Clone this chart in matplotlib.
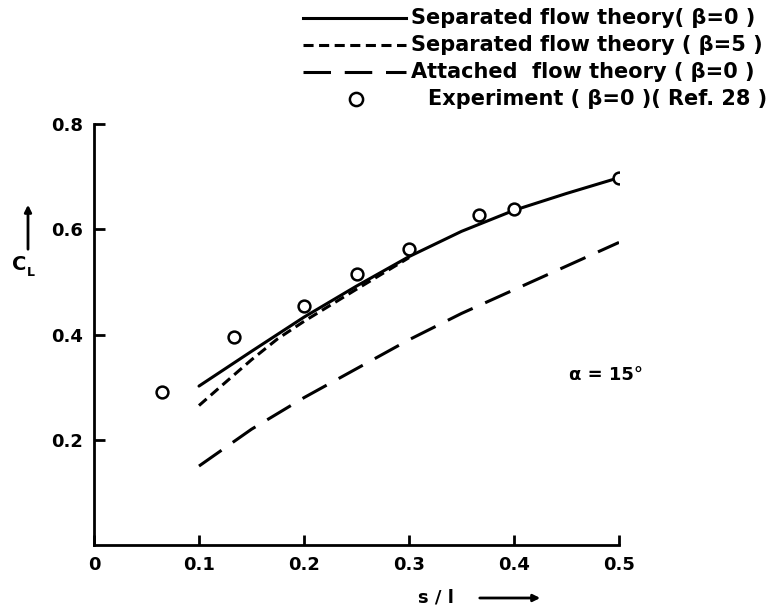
import matplotlib
matplotlib.use("Agg")
import matplotlib.pyplot as plt
from matplotlib.lines import Line2D

# Data (CL vs s/l, alpha = 15 deg)
sep_b0_x = [0.1, 0.15, 0.2, 0.25, 0.3, 0.35, 0.4, 0.45, 0.5]
sep_b0_y = [0.302, 0.368, 0.433, 0.492, 0.548, 0.596, 0.636, 0.668, 0.698]

sep_b5_x = [0.1, 0.12, 0.15, 0.175, 0.2, 0.25, 0.3]
sep_b5_y = [0.265, 0.30, 0.352, 0.392, 0.425, 0.486, 0.546]

att_b0_x = [0.1, 0.15, 0.2, 0.25, 0.3, 0.35, 0.4, 0.45, 0.5]
att_b0_y = [0.15, 0.22, 0.28, 0.335, 0.39, 0.44, 0.485, 0.53, 0.575]

exp_x = [0.065, 0.133, 0.2, 0.25, 0.3, 0.367, 0.4, 0.5]
exp_y = [0.29, 0.395, 0.455, 0.515, 0.562, 0.627, 0.638, 0.698]

x_ticks = [0, 0.1, 0.2, 0.3, 0.4, 0.5]
x_ticklabels = ["0", "0.1", "0.2", "0.3", "0.4", "0.5"]
y_ticks = [0.2, 0.4, 0.6, 0.8]
y_ticklabels = ["0.2", "0.4", "0.6", "0.8"]

legend_texts = [
    "Separated flow theory( β=0 )",
    "Separated flow theory ( β=5 )",
    "Attached  flow theory ( β=0 )",
    "Experiment ( β=0 )( Ref. 28 )",
]

W, H = 782, 607
FS = 13
LEG_FS = 15

def fx(px):
    return px / W

def fy(py):
    return 1 - py / H

fig = plt.figure(figsize=(W / 100, H / 100), dpi=100)
ax = fig.add_axes([fx(94), fy(545), fx(619) - fx(94), fy(124) - fy(545)])

LW = 2.2
short_dash = (3.3, 1.8)
long_dash = (9, 4.5)

ax.plot(sep_b0_x, sep_b0_y, color="black", lw=LW, solid_capstyle="round")
ax.plot(sep_b5_x, sep_b5_y, color="black", lw=LW, dashes=short_dash)
ax.plot(att_b0_x, att_b0_y, color="black", lw=LW, dashes=long_dash)
ax.plot(exp_x, exp_y, linestyle="none", marker="o", ms=8.5, mfc="white",
        mec="black", mew=1.8, zorder=5)

ax.set_xlim(0, 0.5)
ax.set_ylim(0, 0.8)
ax.spines["top"].set_visible(False)
ax.spines["right"].set_visible(False)
ax.spines["left"].set_linewidth(2)
ax.spines["bottom"].set_linewidth(2)

ax.set_xticks(x_ticks)
ax.set_xticklabels(x_ticklabels, fontsize=FS, fontweight="bold")
ax.set_yticks(y_ticks)
ax.set_yticklabels(y_ticklabels, fontsize=FS, fontweight="bold")
ax.tick_params(axis="x", direction="in", length=7, width=2, pad=8)
ax.tick_params(axis="y", direction="in", length=8, width=2, pad=8)

# y label: arrow with C_L below
fig.add_artist(plt.Annotation("", xy=(fx(28), fy(202)), xytext=(fx(28), fy(252)),
                              xycoords="figure fraction", textcoords="figure fraction",
                              arrowprops=dict(arrowstyle="-|>", lw=2, color="black",
                                              mutation_scale=10)))
fig.text(fx(19), fy(264), "C", fontsize=14, fontweight="bold", ha="center", va="center")
fig.text(fx(31), fy(272), "L", fontsize=9, fontweight="bold", ha="center", va="center")

# x label: s/l with arrow to the right
fig.text(fx(436), fy(598), "s / l", fontsize=FS, fontweight="bold", ha="center", va="center")
fig.add_artist(plt.Annotation("", xy=(fx(543), fy(598)), xytext=(fx(477), fy(598)),
                              xycoords="figure fraction", textcoords="figure fraction",
                              arrowprops=dict(arrowstyle="-|>", lw=2, color="black",
                                              mutation_scale=10)))

# alpha annotation
fig.text(fx(606), fy(375), "α = 15°", fontsize=FS, fontweight="bold", ha="center", va="center")

# manual legend at top right
rows = [18, 45, 72, 99]
handles = [("solid", None), ("dash", short_dash), ("dash", long_dash), ("marker", None)]
for py, (kind, d), label in zip(rows, handles, legend_texts):
    if kind == "marker":
        fig.add_artist(Line2D([fx(356)], [fy(py)], transform=fig.transFigure, linestyle="none",
                              marker="o", ms=9.5, mfc="white", mec="black", mew=1.8))
        fig.text(fx(428), fy(py), label, fontsize=LEG_FS, fontweight="bold", va="center", ha="left")
    else:
        ln = Line2D([fx(303), fx(406)], [fy(py), fy(py)], transform=fig.transFigure,
                    color="black", lw=LW)
        if d is not None:
            ln.set_dashes(d)
        fig.add_artist(ln)
        fig.text(fx(411), fy(py), label, fontsize=LEG_FS, fontweight="bold", va="center", ha="left")

fig.savefig("out.png", dpi=100)
